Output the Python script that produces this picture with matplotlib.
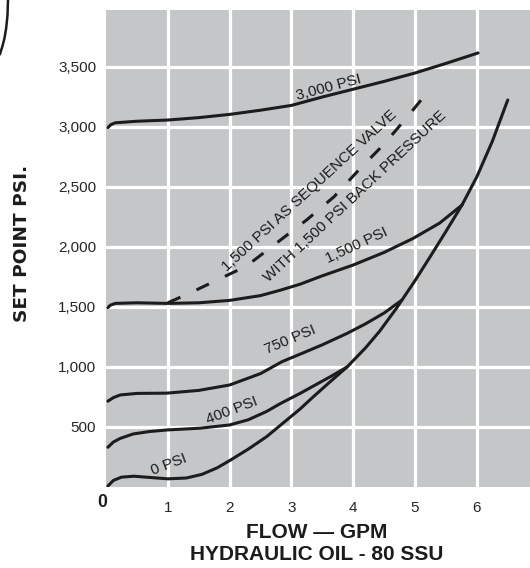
import numpy as np
import matplotlib.pyplot as plt
from matplotlib.lines import Line2D

plt.rcParams['font.family'] = ['Liberation Sans', 'DejaVu Sans']

# curves: flow (GPM) vs set point (PSI)
flow_0 = [0.03, 0.12, 0.25, 0.45, 0.7, 1.0, 1.3, 1.55, 1.8, 2.0, 2.3, 2.6, 2.87, 3.14, 3.35, 3.6, 3.9,
          4.2, 4.43, 4.7, 5.0, 5.24, 5.5, 5.76, 6.0, 6.25, 6.5]
psi_0 = [8, 55, 82, 90, 80, 68, 75, 105, 160, 220, 315, 420, 535, 650, 750, 865, 1000,
         1160, 1300, 1490, 1720, 1915, 2130, 2350, 2585, 2880, 3225]

flow_400 = [0.03, 0.12, 0.23, 0.44, 0.7, 0.98, 1.52, 2.0, 2.3, 2.6, 2.82, 3.14, 3.35, 3.65, 3.9]
psi_400 = [331, 375, 405, 442, 462, 475, 490, 517, 560, 630, 695, 780, 840, 925, 1000]

flow_750 = [0.03, 0.12, 0.23, 0.5, 0.98, 1.5, 2.0, 2.5, 2.85, 3.2, 3.5, 3.9, 4.2, 4.5, 4.78]
psi_750 = [715, 745, 767, 780, 782, 805, 850, 945, 1045, 1120, 1185, 1280, 1360, 1450, 1555]

flow_1500 = [0.03, 0.07, 0.15, 0.5, 1.0, 1.5, 2.0, 2.5, 2.82, 3.14, 3.5, 4.0, 4.5, 4.97, 5.4, 5.76]
psi_1500 = [1495, 1515, 1530, 1535, 1530, 1535, 1555, 1595, 1640, 1690, 1760, 1850, 1955, 2072, 2200, 2350]

flow_3000 = [0.03, 0.08, 0.15, 0.5, 1.0, 1.5, 2.0, 2.5, 3.0, 3.5, 4.0, 4.5, 5.0, 5.5, 6.02]
psi_3000 = [2995, 3020, 3035, 3048, 3058, 3078, 3105, 3140, 3180, 3250, 3315, 3380, 3450, 3530, 3617]

# sequence valve with back pressure (dashed)
flow_seq = [1.0, 1.36, 1.73, 2.27, 2.79, 3.25, 3.69, 4.09, 4.5, 4.87, 5.23]
psi_seq = [1535, 1617, 1708, 1840, 2045, 2227, 2419, 2642, 2858, 3081, 3308]

x_ticks = [1, 2, 3, 4, 5, 6]
y_ticks = [500, 1000, 1500, 2000, 2500, 3000, 3500]
y_labels = ['500', '1,000', '1,500', '2,000', '2,500', '3,000', '3,500']

W, H = 530, 568
fig = plt.figure(figsize=(W / 100, H / 100), dpi=100)
ax = fig.add_axes([106 / W, 1 - 487 / H, 1 - 106 / W, (487 - 10) / H])
ax.set_facecolor('#c4c6c8')
ax.set_xlim(0, 6.86)
ax.set_ylim(0, 3975)
for s in ax.spines.values():
    s.set_visible(False)

txt = '#1c1c1c'
ax.set_xticks(x_ticks)
ax.set_xticklabels([str(t) for t in x_ticks], fontsize=11, color='#262626')
ax.set_yticks(y_ticks)
ax.set_yticklabels(y_labels, fontsize=11, color='#262626')
ax.tick_params(length=0)
ax.tick_params(axis='x', pad=10)
ax.tick_params(axis='y', pad=7)
ax.grid(True, color='white', linewidth=2.3)
ax.set_axisbelow(True)

lw = 2.2
for fx, py in [(flow_0, psi_0), (flow_400, psi_400), (flow_750, psi_750),
               (flow_1500, psi_1500), (flow_3000, psi_3000)]:
    ax.plot(fx, py, color=txt, linewidth=lw, solid_capstyle='round', solid_joinstyle='round')
ax.plot(flow_seq, psi_seq, color=txt, linewidth=lw, linestyle=(0, (4.5, 5.8)))

tk = dict(ha='center', va='center', rotation_mode='anchor', fontsize=11, color=txt)
ax.text(3.61, 3325, '3,000 PSI', rotation=15, **tk)
ax.text(3.30, 2467, '1,500 PSI AS SEQUENCE VALVE', rotation=42.5, **tk)
ax.text(4.03, 2420, 'WITH 1,500 PSI BACK PRESSURE', rotation=43, **tk)
ax.text(4.06, 2010, '1,500 PSI', rotation=25, **tk)
ax.text(2.98, 1225, '750 PSI', rotation=23, **tk)
ax.text(2.03, 635, '400 PSI', rotation=21, **tk)
ax.text(1.02, 190, '0 PSI', rotation=21, **tk)

ax.text(-0.065, -164, '0', ha='center', va='baseline', fontsize=12.7, fontweight='bold',
        color=txt, clip_on=False)

fig.text(22 / W, 1 - 243 / H, 'SET POINT PSI.', rotation=90, ha='center', va='center',
         fontsize=13.3, fontweight='bold', color=txt, family='DejaVu Sans')
fig.text(317 / W, 1 - 532 / H, 'FLOW \u2014 GPM', ha='center', va='center',
         fontsize=15, fontweight='bold', color=txt)
fig.text(317 / W, 1 - 554 / H, 'HYDRAULIC OIL - 80 SSU', ha='center', va='center',
         fontsize=15, fontweight='bold', color=txt)

# part of the page border at top left
fig.add_artist(Line2D(np.array([8, 7.5, 6.2, 4.5, 2.5, 0]) / W,
                      1 - np.array([0, 15, 28, 38, 46, 54]) / H,
                      color=txt, linewidth=1.8, transform=fig.transFigure))

fig.savefig('out.png', dpi=100)
